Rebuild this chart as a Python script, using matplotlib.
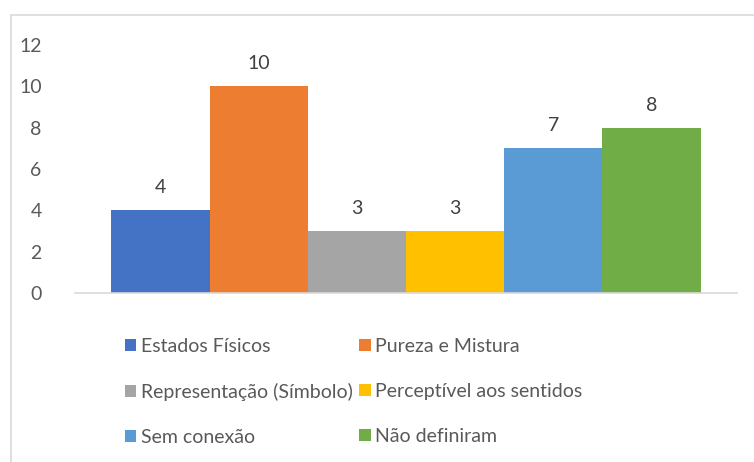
import matplotlib.pyplot as plt
from matplotlib.patches import Rectangle

categorias = ['Estados Físicos', 'Pureza e Mistura', 'Representação (Símbolo)',
              'Perceptível aos sentidos', 'Sem conexão', 'Não definiram']
valores = [4, 10, 3, 3, 7, 8]
cores = ['#4472C4', '#ED7D31', '#A5A5A5', '#FFC000', '#5B9BD5', '#70AD47']
yticks = [0, 2, 4, 6, 8, 10, 12]

plt.rcParams['font.family'] = ['Lato', 'DejaVu Sans']

fig = plt.figure(figsize=(7.54, 4.62), dpi=100)
ax = fig.add_axes([75/754, 1 - 293/462, (737 - 75)/754, (293 - 45)/462])

# moldura do gráfico
fig.patches.append(Rectangle((10.5/754, -0.1), 1.0, 1 - 15.5/462 + 0.1,
                             transform=fig.transFigure, fill=False,
                             edgecolor='#d9d9d9', linewidth=1.2))

x = list(range(len(valores)))
barras = ax.bar(x, valores, width=1.0, color=cores, label=categorias)
for xi, v in zip(x, valores):
    ax.annotate(str(v), (xi, v), xytext=(0, 10), textcoords='offset points',
                ha='center', va='bottom', fontsize=14, color='#404040')

ax.set_xlim(-0.5 - 0.37, 5.5 + 0.37)
ax.set_ylim(0, 12)
ax.set_yticks(yticks)
ax.set_xticks([])
ax.tick_params(axis='y', length=0, pad=24, labelsize=14, labelcolor='#595959')
for s in ['top', 'right', 'left']:
    ax.spines[s].set_visible(False)
ax.spines['bottom'].set_color('#d9d9d9')
ax.spines['bottom'].set_linewidth(1.2)

ordem = [0, 2, 4, 1, 3, 5]
leg = fig.legend([barras[i] for i in ordem], [categorias[i] for i in ordem],
                 ncol=2, frameon=False, loc='upper left',
                 bbox_to_anchor=(115/754, 1 - 328/462), borderpad=0,
                 fontsize=14, handlelength=0.6, handleheight=0.6,
                 handletextpad=0.25, columnspacing=0.3, labelspacing=1.45)
for t in leg.get_texts():
    t.set_color('#595959')

fig.savefig('out.png', dpi=100)
